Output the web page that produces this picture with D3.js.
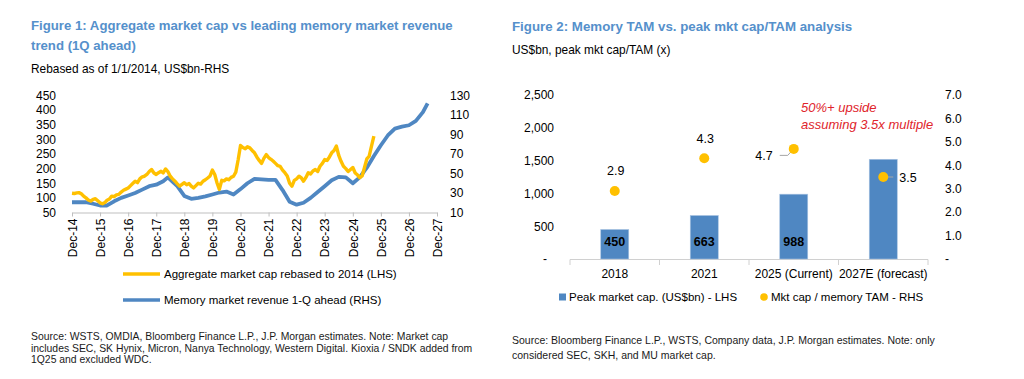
<!DOCTYPE html>
<html><head><meta charset="utf-8">
<script src="https://cdn.jsdelivr.net/npm/d3@7"></script>
<style>
body{margin:0;background:#fff;}
svg text{font-family:"Liberation Sans",Arial,sans-serif;}
</style></head><body>
<svg id="c" width="1024" height="379"></svg>
<script>
// ---------- Figure 1 data ----------
const aggMonths = ["2014-12","2015-01","2015-02","2015-03","2015-04","2015-05","2015-06","2015-07","2015-08","2015-09","2015-10","2015-11","2015-12",
"2016-01","2016-02","2016-03","2016-04","2016-05","2016-06","2016-07","2016-08","2016-09","2016-10","2016-11","2016-12",
"2017-01","2017-02","2017-03","2017-04","2017-05","2017-06","2017-07","2017-08","2017-09","2017-10","2017-11","2017-12",
"2018-01","2018-02","2018-03","2018-04","2018-05","2018-06","2018-07","2018-08","2018-09","2018-10","2018-11","2018-12",
"2019-01","2019-02","2019-03","2019-04","2019-05","2019-06","2019-07","2019-08","2019-09","2019-10","2019-11","2019-12",
"2020-01","2020-02","2020-03","2020-04","2020-05","2020-06","2020-07","2020-08","2020-09","2020-10","2020-11","2020-12",
"2021-01","2021-02","2021-03","2021-04","2021-05","2021-06","2021-07","2021-08","2021-09","2021-10","2021-11","2021-12",
"2022-01","2022-02","2022-03","2022-04","2022-05","2022-06","2022-07","2022-08","2022-09","2022-10","2022-11","2022-12",
"2023-01","2023-02","2023-03","2023-04","2023-05","2023-06","2023-07","2023-08","2023-09","2023-10","2023-11","2023-12",
"2024-01","2024-02","2024-03","2024-04","2024-05","2024-06","2024-07","2024-08","2024-09","2024-10","2024-11","2024-12",
"2025-01","2025-02","2025-03","2025-04","2025-05","2025-06","2025-07","2025-08","2025-09"];
const aggValues = [116,115,117,118,114,106,100,93,89,95,97,90,83,
80,84,92,96,106,104,110,112,120,126,130,134,
142,150,157,152,165,172,174,180,190,197,185,180,
186,191,185,199,190,174,165,157,148,140,146,152,
145,149,140,134,142,150,147,157,162,168,175,195,
180,150,129,160,158,165,162,170,174,188,231,279,
272,268,275,271,262,254,240,228,218,235,248,238,
232,225,218,210,208,195,186,175,150,140,160,165,
174,168,157,170,186,182,192,197,190,208,218,231,
228,240,254,262,277,245,225,208,200,190,197,204,
185,178,169,175,203,233,242,277,311];

const revQuarters = ["2014-12","2015-03","2015-06","2015-09","2015-12","2016-03","2016-06","2016-09","2016-12",
"2017-03","2017-06","2017-09","2017-12","2018-03","2018-05","2018-09","2018-12",
"2019-03","2019-06","2019-09","2019-12","2020-03","2020-06","2020-09","2020-12",
"2021-03","2021-06","2021-09","2021-12","2022-03","2022-06","2022-09","2022-12",
"2023-03","2023-06","2023-09","2023-12","2024-03","2024-06","2024-09","2024-12",
"2025-03","2025-06","2025-09","2025-12","2026-03","2026-06","2026-09","2026-12",
"2027-03","2027-06","2027-08"];
const revValues = [20.5,20.5,20.5,19,17.2,17.2,21.5,25,27.5,
30,33.5,37,38.5,42,46,37,27,
24,25,26.5,28.5,30.5,31.5,28.5,34,
40,44.5,44,43.5,43.5,33,21,18,
20,25,31,37,43,46.5,46,40,
46,56,68,79,89,96,98,99.5,
104,113,122];

const xTickLabels = ["Dec-14","Dec-15","Dec-16","Dec-17","Dec-18","Dec-19","Dec-20","Dec-21","Dec-22","Dec-23","Dec-24","Dec-25","Dec-26","Dec-27"];
const lhsTicks1 = [50,100,150,200,250,300,350,400,450];
const rhsTicks1 = [10,30,50,70,90,110,130];
const legend1 = ["Aggregate market cap rebased to 2014 (LHS)","Memory market revenue 1-Q ahead (RHS)"];

// ---------- Figure 2 data ----------
const categories = ["2018","2021","2025 (Current)","2027E (forecast)"];
const peakCap = [450,663,988,1520];
const capLabelShown = [true,true,true,false];
const capTam = [2.9,4.3,4.7,3.5];
const capTamLabelPos = ["above","above","left","right"];
const lhsTicks2 = [0,500,1000,1500,2000,2500];
const rhsTicks2 = [0,1,2,3,4,5,6,7];
const legend2 = ["Peak market cap. (US$bn) - LHS","Mkt cap / memory TAM - RHS"];

const YELLOW="#FFC000", BLUE="#4F87C2", TITLE="#5590CB", RED="#E0242B";
const FONT="Liberation Sans, Arial, sans-serif";
const svg = d3.select("#c");
const parse = d3.timeParse("%Y-%m");

// ---------- Titles / notes ----------
function txt(x,y,s,opt={}){
  return svg.append("text").attr("x",x).attr("y",y).attr("dy","0.35em")
    .attr("font-size",opt.size||12).attr("font-weight",opt.weight||"normal")
    .attr("font-style",opt.style||"normal").attr("fill",opt.color||"#000")
    .attr("text-anchor",opt.anchor||"start").text(s);
}
txt(31,25,"Figure 1: Aggregate market cap vs leading memory market revenue",{size:13.2,weight:"bold",color:TITLE});
txt(31,45,"trend (1Q ahead)",{size:13.2,weight:"bold",color:TITLE});
txt(31,69,"Rebased as of 1/1/2014, US$bn-RHS",{size:11.9});
txt(512,26,"Figure 2: Memory TAM vs. peak mkt cap/TAM analysis",{size:13.3,weight:"bold",color:TITLE});
txt(512,50,"US$bn, peak mkt cap/TAM (x)",{size:11.9});
const SRC = {size:10.4,color:"#1a1a1a"};
txt(31,336,"Source: WSTS, OMDIA, Bloomberg Finance L.P., J.P. Morgan estimates. Note: Market cap",SRC);
txt(31,348,"includes SEC, SK Hynix, Micron, Nanya Technology, Western Digital. Kioxia / SNDK added from",SRC);
txt(31,359.5,"1Q25 and excluded WDC.",SRC);
txt(512,340,"Source: Bloomberg Finance L.P., WSTS, Company data, J.P. Morgan estimates. Note: only",{size:10.5,color:"#1a1a1a"});
txt(512,355,"considered SEC, SKH, and MU market cap.",{size:10.5,color:"#1a1a1a"});

// ---------- Figure 1 ----------
const x1 = d3.scaleTime().domain([parse("2014-12"),parse("2027-12")]).range([72,437]);
const yL = d3.scaleLinear().domain([50,450]).range([212.5,95.5]);
const yR = d3.scaleLinear().domain([10,130]).range([212.5,95.5]);
const g1 = svg.append("g");

const xTickDates = xTickLabels.map(s=>d3.timeParse("%b-%y")(s));
const ax1 = g1.append("g").attr("transform","translate(0,212.5)")
  .call(d3.axisBottom(x1).tickValues(xTickDates).tickFormat((d,i)=>xTickLabels[i]).tickSize(4).tickSizeOuter(0));
ax1.select(".domain").attr("stroke","#BFBFBF");
ax1.selectAll(".tick line").attr("stroke","#BFBFBF");
ax1.selectAll("text").attr("transform","rotate(-90)").attr("x",-6).attr("y",0).attr("dy","0.35em")
  .attr("text-anchor","end").attr("font-size",12).attr("fill","#000").attr("font-family",FONT);

const ayL = g1.append("g").attr("transform","translate(60,0)")
  .call(d3.axisLeft(yL).tickValues(lhsTicks1).tickSize(0).tickPadding(4));
ayL.select(".domain").remove();
ayL.selectAll("text").attr("font-size",12).attr("fill","#000").attr("font-family",FONT);
const ayR = g1.append("g").attr("transform","translate(446,0)")
  .call(d3.axisRight(yR).tickValues(rhsTicks1).tickSize(0).tickPadding(4));
ayR.select(".domain").remove();
ayR.selectAll("text").attr("font-size",12).attr("fill","#000").attr("font-family",FONT);

const revData = revQuarters.map((m,i)=>({d:parse(m),v:revValues[i]}));
const aggData = aggMonths.map((m,i)=>({d:parse(m),v:aggValues[i]}));
g1.append("path").datum(revData).attr("fill","none").attr("stroke",BLUE).attr("stroke-width",3.8)
  .attr("stroke-linejoin","round").attr("d",d3.line().x(d=>x1(d.d)).y(d=>yR(d.v)));
g1.append("path").datum(aggData).attr("fill","none").attr("stroke",YELLOW).attr("stroke-width",3.4)
  .attr("stroke-linejoin","round").attr("d",d3.line().x(d=>x1(d.d)).y(d=>yL(d.v)));

[YELLOW,BLUE].forEach((c,i)=>{
  const y = 274 + i*26;
  g1.append("line").attr("x1",123).attr("x2",160).attr("y1",y).attr("y2",y).attr("stroke",c).attr("stroke-width",3.5);
  txt(164,y,legend1[i],{size:11.5});
});

// ---------- Figure 2 ----------
const p = 0.687;
const xb = d3.scaleBand().domain(categories).range([570,928]).paddingInner(p).paddingOuter(p/2);
const yBL = d3.scaleLinear().domain([0,2500]).range([259,95]);
const yBR = d3.scaleLinear().domain([0,7]).range([259,95]);
const g2 = svg.append("g");

g2.append("line").attr("x1",570).attr("x2",928).attr("y1",259.5).attr("y2",259.5).attr("stroke","#D0D0D0");
const bounds = categories.map(c=>xb(c)+xb.bandwidth()/2-xb.step()/2).concat([928]);
g2.selectAll(".bt").data(bounds).join("line").attr("x1",d=>d).attr("x2",d=>d)
  .attr("y1",259.5).attr("y2",265).attr("stroke","#D0D0D0");
const axb = g2.append("g").attr("transform","translate(0,259.5)")
  .call(d3.axisBottom(xb).tickSize(0).tickPadding(10));
axb.select(".domain").remove();
axb.selectAll("text").attr("font-size",12).attr("fill","#000").attr("font-family",FONT);

const ayBL = g2.append("g").attr("transform","translate(558,0)")
  .call(d3.axisLeft(yBL).tickValues(lhsTicks2).tickSize(0).tickPadding(4).tickFormat(d=>d===0?"-":d3.format(",")(d)));
ayBL.select(".domain").remove();
ayBL.selectAll("text").attr("font-size",12).attr("fill","#000").attr("font-family",FONT)
  .attr("dx",d=>d===0?-7:0);
const ayBR = g2.append("g").attr("transform","translate(941,0)")
  .call(d3.axisRight(yBR).tickValues(rhsTicks2).tickSize(0).tickPadding(4).tickFormat(d=>d===0?"-":d3.format(".1f")(d)));
ayBR.select(".domain").remove();
ayBR.selectAll("text").attr("font-size",12).attr("fill","#000").attr("font-family",FONT);

g2.selectAll(".bar").data(categories).join("rect")
  .attr("x",c=>xb(c)).attr("width",xb.bandwidth())
  .attr("y",(c,i)=>yBL(peakCap[i])).attr("height",(c,i)=>yBL(0)-yBL(peakCap[i]))
  .attr("fill",BLUE).attr("stroke","#A9C4E2").attr("stroke-width",0.6);
categories.forEach((c,i)=>{
  if(capLabelShown[i]) txt(xb(c)+xb.bandwidth()/2,242,d3.format(",")(peakCap[i]),{size:12.5,weight:"bold",anchor:"middle"});
});

categories.forEach((c,i)=>{
  const cx = xb(c)+xb.bandwidth()/2, cy = yBR(capTam[i]);
  const lab = d3.format(".1f")(capTam[i]);
  if(capTamLabelPos[i]==="above"){
    txt(cx+1,cy-20,lab,{size:12.5,anchor:"middle"});
  } else if(capTamLabelPos[i]==="left"){
    g2.append("polyline").attr("points",[[cx-14,cy+6.5],[cx-6,cy+6.5],[cx-2,cy+2]].join(" "))
      .attr("fill","none").attr("stroke","#A6A6A6").attr("stroke-width",1);
    txt(cx-21,cy+6.5,lab,{size:12.5,anchor:"end"});
  } else {
    g2.append("line").attr("x1",cx+4).attr("x2",cx+10).attr("y1",cy).attr("y2",cy)
      .attr("stroke","#A6A6A6").attr("stroke-width",1);
    txt(cx+16,cy+0.5,lab,{size:12.5});
  }
  g2.append("circle").attr("cx",cx).attr("cy",cy).attr("r",5).attr("fill",YELLOW);
});

txt(801,107,"50%+ upside",{size:13,style:"italic",color:RED});
txt(801,124,"assuming 3.5x multiple",{size:13,style:"italic",color:RED});

g2.append("rect").attr("x",559).attr("y",293.5).attr("width",7).attr("height",7).attr("fill",BLUE);
txt(569,297,legend2[0],{size:11.5});
g2.append("circle").attr("cx",764).attr("cy",297).attr("r",3.8).attr("fill",YELLOW);
txt(771,297,legend2[1],{size:11.5});
</script></body></html>
